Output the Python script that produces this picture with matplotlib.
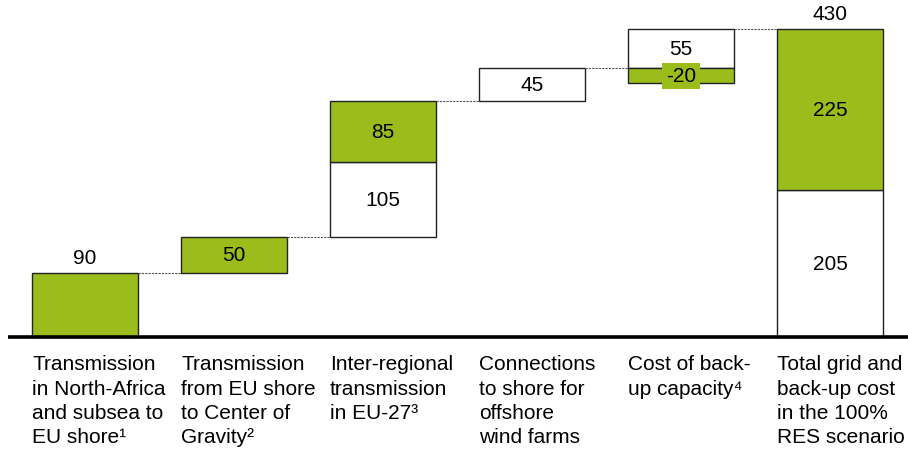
import matplotlib
matplotlib.use("Agg")
import matplotlib.pyplot as plt

plt.rcParams['font.family'] = ['Liberation Sans', 'DejaVu Sans']

categories = [
    "Transmission\nin North-Africa\nand subsea to\nEU shore\u00b9",
    "Transmission\nfrom EU shore\nto Center of\nGravity\u00b2",
    "Inter-regional\ntransmission\nin EU-27\u00b3",
    "Connections\nto shore for\noffshore\nwind farms",
    "Cost of back-\nup capacity\u2074",
    "Total grid and\nback-up cost\nin the 100%\nRES scenario",
]
green_values = [90, 50, 85, 0, -20, 225]
white_values = [0, 0, 105, 45, 55, 205]
running_start = [0, 90, 140, 330, 375, 0]
total_label = ["90", None, None, None, None, "430"]

GREEN = "#9BBD1C"
EDGE = "#222222"
FS = 15

fig = plt.figure(figsize=(9.08, 4.52), dpi=100)
ax = fig.add_axes([0, 0, 1, 1])
ax.set_xlim(-0.570, 5.523)
ax.set_ylim(-159.2, 471.9)
ax.axis("off")

w = 0.71
tops = []
for i in range(len(categories)):
    s = running_start[i]
    g = green_values[i]
    wv = white_values[i]
    if i == 2 or i == 5:
        ax.bar(i, wv, w, bottom=s, color="white", edgecolor=EDGE, linewidth=1)
        ax.text(i, s + wv / 2, str(wv), ha="center", va="center", fontsize=FS)
        ax.bar(i, g, w, bottom=s + wv, color=GREEN, edgecolor=EDGE, linewidth=1)
        ax.text(i, s + wv + g / 2, str(g), ha="center", va="center", fontsize=FS)
        tops.append(s + wv + g)
    elif i == 4:
        ax.bar(i, wv, w, bottom=s, color="white", edgecolor=EDGE, linewidth=1)
        ax.text(i, s + wv / 2, str(wv), ha="center", va="center", fontsize=FS)
        ax.bar(i, g, w, bottom=s, color=GREEN, edgecolor=EDGE, linewidth=1)
        ax.text(i, s + g / 2, str(g), ha="center", va="center", fontsize=FS,
                bbox=dict(facecolor=GREEN, edgecolor="none", pad=2.5))
        tops.append(s + wv)
    elif wv > 0:
        ax.bar(i, wv, w, bottom=s, color="white", edgecolor=EDGE, linewidth=1)
        ax.text(i, s + wv / 2, str(wv), ha="center", va="center", fontsize=FS)
        tops.append(s + wv)
    else:
        ax.bar(i, g, w, bottom=s, color=GREEN, edgecolor=EDGE, linewidth=1)
        if total_label[i] is None:
            ax.text(i, s + g / 2, str(g), ha="center", va="center", fontsize=FS)
        tops.append(s + g)
    if total_label[i] is not None:
        ax.text(i, tops[-1] + 8, total_label[i], ha="center", va="bottom", fontsize=FS)

for i in range(len(categories) - 1):
    ax.plot([i + w / 2, i + 1 - w / 2], [tops[i], tops[i]], color="#555555",
            linewidth=0.8, linestyle=(0, (2, 1)))

ax.plot([-0.515, 5.523], [0, 0], color="black", linewidth=2.6, solid_capstyle="butt")

for i, lab in enumerate(categories):
    ax.text(i - w / 2, -24, lab, ha="left", va="top", fontsize=FS, linespacing=1.36)

fig.savefig("out.png", dpi=100)
